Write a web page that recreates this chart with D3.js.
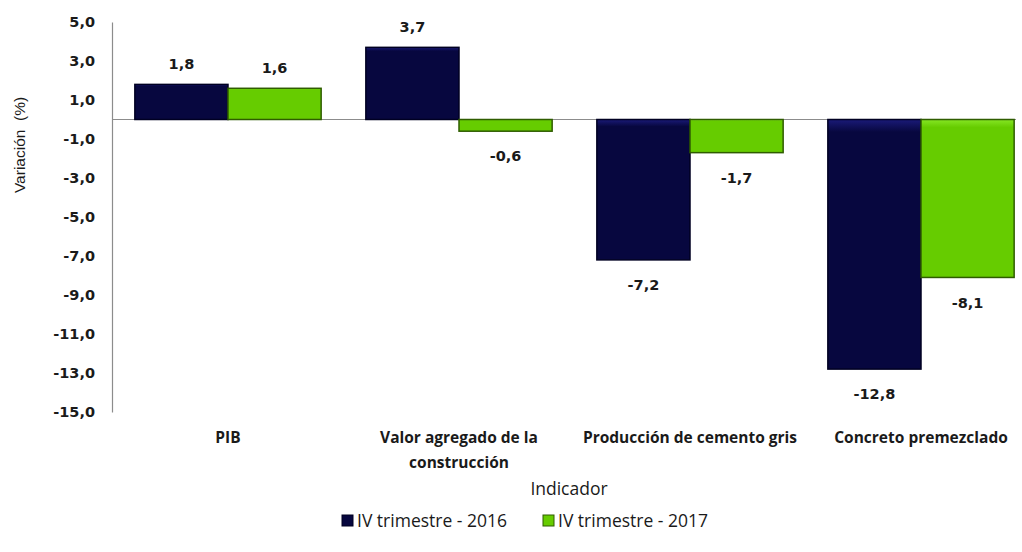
<!DOCTYPE html>
<html>
<head>
<meta charset="utf-8">
<script src="https://cdn.jsdelivr.net/npm/d3@7"></script>
<style>
  body { margin: 0; background: #fff; }
  svg { display: block; }
</style>
</head>
<body>
<div id="chart"></div>
<script>
// Data
const categories = [
  ["PIB"],
  ["Valor agregado de la", "construcción"],
  ["Producción de cemento gris"],
  ["Concreto premezclado"]
];
const series = ["IV trimestre - 2016", "IV trimestre - 2017"];
const values2016 = [1.8, 3.7, -7.2, -12.8];
const values2017 = [1.6, -0.6, -1.7, -8.1];
const yTicks = [5, 3, 1, -1, -3, -5, -7, -9, -11, -13, -15];

const colors = ["#07073f", "#66cc00"];
const strokes = ["#000022", "#2f5c00"];

const width = 1022;
const height = 552;

const fmt = v => d3.format(".1f")(v).replace(".", ",").replace("−", "-");

const svg = d3.select("#chart")
  .append("svg")
  .attr("width", width)
  .attr("height", height);

// gradients for a slight bevel look
const defs = svg.append("defs");
const grads = [["#1a1a78", "#05053a"], ["#86e624", "#5fc000"]];
grads.forEach((g, i) => {
  const lg = defs.append("linearGradient")
    .attr("id", "g" + i)
    .attr("x1", 0).attr("y1", 0).attr("x2", 0).attr("y2", 1);
  lg.append("stop").attr("offset", "0%").attr("stop-color", g[0]);
  lg.append("stop").attr("offset", "5%").attr("stop-color", colors[i]);
  lg.append("stop").attr("offset", "100%").attr("stop-color", colors[i]);
});

// Scales
const x0 = d3.scaleBand()
  .domain(d3.range(categories.length))
  .range([112.5, 1036.5]);

const x1 = d3.scaleBand()
  .domain([0, 1])
  .range([0, x0.bandwidth()])
  .paddingOuter(0.24);

const y = d3.scaleLinear()
  .domain([-15, 5])
  .range([412, 22]);

// Y axis
const yAxis = d3.axisLeft(y)
  .tickValues(yTicks)
  .tickSize(0)
  .tickPadding(17)
  .tickFormat(fmt);

const gy = svg.append("g")
  .attr("transform", "translate(112,0)")
  .call(yAxis);
gy.select(".domain").attr("stroke", "#8c8c8c").attr("stroke-width", 1.2);
gy.selectAll("text")
  .attr("font-family", "DejaVu Sans")
  .attr("font-weight", "bold")
  .attr("font-size", "14.5px")
  .attr("fill", "#1a1a1a");

// zero line
svg.append("line")
  .attr("x1", 112).attr("x2", 1016)
  .attr("y1", y(0)).attr("y2", y(0))
  .attr("stroke", "#8c8c8c")
  .attr("stroke-width", 1.2);

// Bars
const data = categories.map((c, i) => [values2016[i], values2017[i]]);

const groups = svg.selectAll(".cat")
  .data(data)
  .enter()
  .append("g")
  .attr("transform", (d, i) => `translate(${x0(i)},0)`);

groups.selectAll("rect")
  .data(d => d.map((v, j) => ({ v, j })))
  .enter()
  .append("rect")
  .attr("x", d => x1(d.j))
  .attr("y", d => y(Math.max(0, d.v)))
  .attr("width", x1.bandwidth())
  .attr("height", d => Math.abs(y(d.v) - y(0)))
  .attr("fill", d => `url(#g${d.j})`)
  .attr("stroke", d => strokes[d.j])
  .attr("stroke-width", 1.5);

// Value labels
groups.selectAll(".val")
  .data(d => d.map((v, j) => ({ v, j })))
  .enter()
  .append("text")
  .attr("x", d => x1(d.j) + x1.bandwidth() / 2)
  .attr("y", d => d.v >= 0 ? y(d.v) - 20 : y(d.v) + 25)
  .attr("dy", "0.35em")
  .attr("text-anchor", "middle")
  .attr("font-family", "DejaVu Sans")
  .attr("font-weight", "bold")
  .attr("font-size", "14.5px")
  .attr("fill", "#1a1a1a")
  .text(d => fmt(d.v));

// Category labels
const catLabels = svg.selectAll(".catlabel")
  .data(categories)
  .enter()
  .append("text")
  .attr("text-anchor", "middle")
  .attr("font-family", "Open Sans")
  .attr("font-weight", "bold")
  .attr("font-size", "15.5px")
  .attr("fill", "#1a1a1a")
  .attr("x", (d, i) => x0(i) + x0.bandwidth() / 2)
  .attr("y", 443);

catLabels.selectAll("tspan")
  .data(d => d)
  .enter()
  .append("tspan")
  .attr("x", function () { return d3.select(this.parentNode).attr("x"); })
  .attr("dy", (d, i) => i === 0 ? 0 : 25)
  .text(d => d);

// Axis titles
svg.append("text")
  .attr("transform", "translate(25,145) rotate(-90)")
  .attr("text-anchor", "middle")
  .attr("font-family", "Liberation Sans")
  .attr("font-size", "15.5px")
  .attr("fill", "#1a1a1a")
  .attr("xml:space", "preserve")
  .text("Variación  (%)");

svg.append("text")
  .attr("x", 569)
  .attr("y", 495)
  .attr("text-anchor", "middle")
  .attr("font-family", "Open Sans")
  .attr("font-size", "17.5px")
  .attr("fill", "#1a1a1a")
  .text("Indicador");

// Legend
const legendX = [342, 543];
const legend = svg.selectAll(".legend")
  .data(series)
  .enter()
  .append("g")
  .attr("transform", (d, i) => `translate(${legendX[i]},521)`);

legend.append("rect")
  .attr("x", 0).attr("y", -6)
  .attr("width", 11).attr("height", 11)
  .attr("fill", (d, i) => colors[i])
  .attr("stroke", (d, i) => strokes[i]);

legend.append("text")
  .attr("x", 15)
  .attr("y", 0)
  .attr("dy", "0.35em")
  .attr("font-family", "Open Sans")
  .attr("font-size", "17.5px")
  .attr("fill", "#1a1a1a")
  .text(d => d);
</script>
</body>
</html>
